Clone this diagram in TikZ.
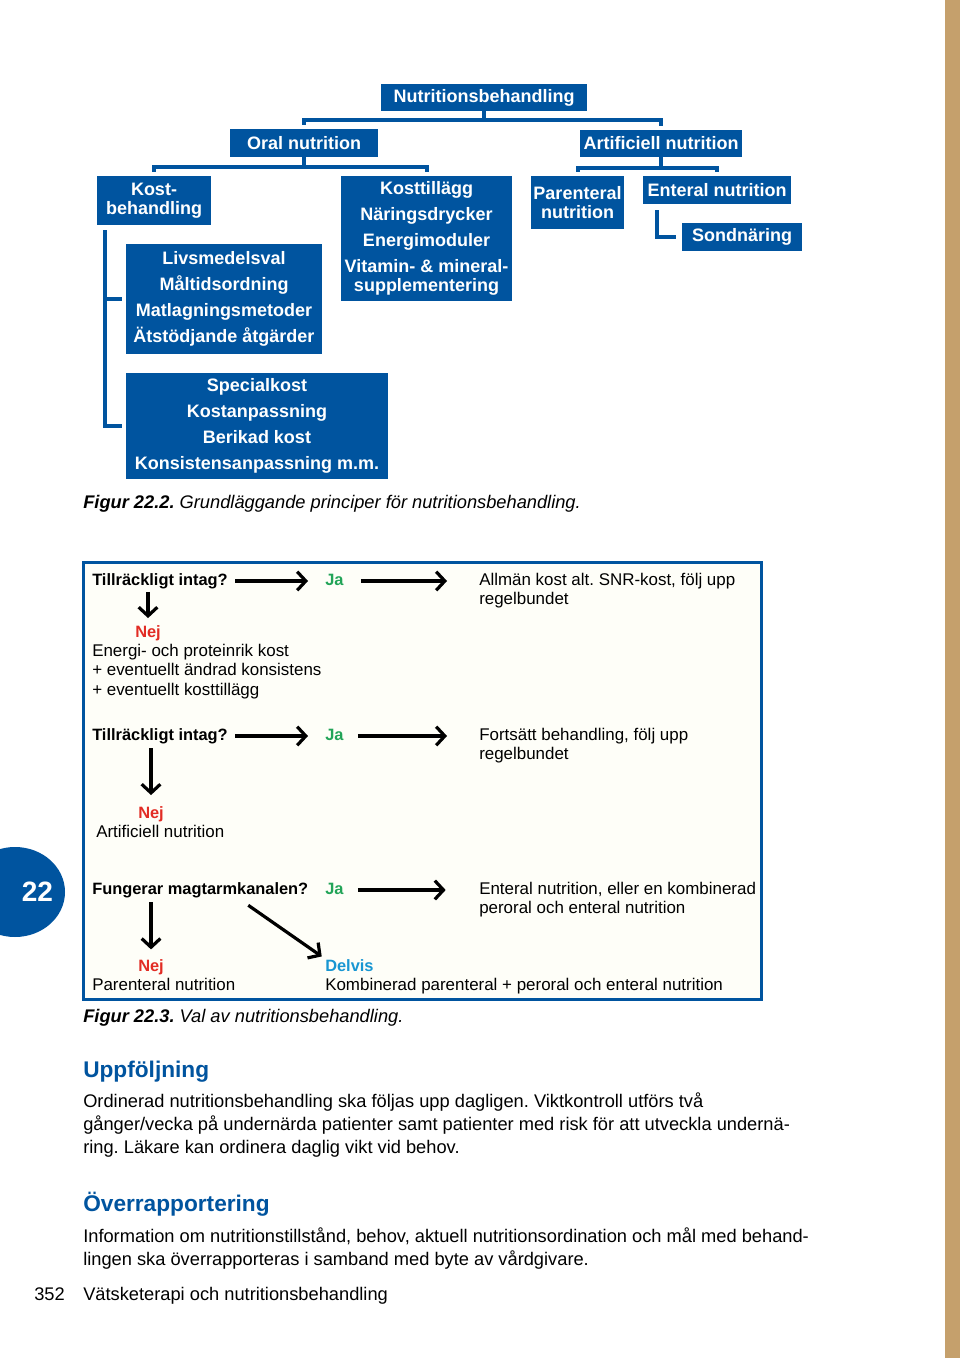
\documentclass[tikz,border=0pt]{standalone}
\usepackage{fontspec}
\setmainfont{Liberation Sans}
\usetikzlibrary{arrows.meta, calc}
\frenchspacing
\definecolor{boxblue}{RGB}{0, 84, 159}
\definecolor{pagetan}{RGB}{197, 160, 108}
\definecolor{flowbg}{RGB}{254, 254, 248}
\definecolor{jagreen}{RGB}{34, 164, 88}
\definecolor{nejred}{RGB}{226, 44, 36}
\definecolor{delvisblue}{RGB}{24, 150, 210}
\newcommand\boxfont{\fontsize{13.5}{19.5}\selectfont\bfseries}
\newcommand\flowfont{\fontsize{12.7}{14.6}\selectfont}
\newcommand\bodyfont{\fontsize{13.7}{17.25}\selectfont}

\begin{document}
\begin{tikzpicture}[
    x=0.75pt, y=-0.75pt,
    bluebox/.style={fill=boxblue, text=white, font=\boxfont, align=center, inner sep=0pt},
    treeline/.style={draw=boxblue, line width=3pt},
    flowtext/.style={font=\flowfont, inner sep=0pt, anchor=base west, text height=9pt, text depth=3pt},
    flowword/.style={flowtext, font=\fontsize{12.3}{14.6}\selectfont\bfseries},
    flowpara/.style={font=\flowfont, inner sep=0pt, anchor=base west, align=left},
    flowarrow/.style={line width=2.4pt, -{Straight Barb[length=6.5pt, width=14pt]}},
    bodytext/.style={font=\bodyfont, inner sep=0pt, anchor=base west, align=left},
    heading/.style={font=\fontsize{17}{20}\selectfont\bfseries, text=boxblue, inner sep=0pt, anchor=base west}
]
    % Page
    \fill[white] (0,0) rectangle (960,1358);
    \useasboundingbox (0,0) rectangle (960,1358);
    \fill[pagetan] (945,0) rectangle (960,1358);

    % Figure 22.2: tree of boxes
    \node[bluebox, minimum width=154.5pt, minimum height=20.25pt] (nutr) at (484,97.5) {Nutritionsbehandling};
    \node[bluebox, minimum width=111pt, minimum height=21pt] (oral) at (304,143) {Oral nutrition};
    \node[bluebox, minimum width=121.5pt, minimum height=20.25pt] (art) at (661,143.5) {Artificiell nutrition};
    \node[bluebox, minimum width=85.5pt, minimum height=36.75pt] (kost) at (154,200.5) {Kost-\\[-5.25pt]behandling};
    \node[bluebox, minimum width=128.25pt, minimum height=93.75pt] (tillagg) at (426.5,238.5)
        {Kosttillägg\\Näringsdrycker\\Energimoduler\\Vitamin- \& mineral-\\[-5.25pt]supplementering};
    \node[bluebox, minimum width=69.75pt, minimum height=39.75pt] (par) at (577.5,202.5) {Parenteral\\[-5.25pt]nutrition};
    \node[bluebox, minimum width=111pt, minimum height=21pt] (ent) at (717,190) {Enteral nutrition};
    \node[bluebox, minimum width=90pt, minimum height=21pt] (sond) at (742,237) {Sondnäring};
    \node[bluebox, minimum width=147pt, minimum height=82.5pt] (livs) at (224,299)
        {Livsmedelsval\\Måltidsordning\\Matlagningsmetoder\\Ätstödjande åtgärder};
    \node[bluebox, minimum width=196.5pt, minimum height=79.5pt] (special) at (257,426)
        {Specialkost\\Kostanpassning\\Berikad kost\\Konsistensanpassning m.m.};

    % Tree connectors
    \coordinate (nutrfoot) at ($(nutr.south)+(0,9)$);
    \coordinate (oralfoot) at ($(oral.south)+(0,10)$);
    \coordinate (artfoot) at ($(art.south)+(0,11)$);
    \coordinate (kostfoot) at ($(kost.south west)+(8,5)$);
    \coordinate (entfoot) at ($(ent.south west)+(14,6)$);
    \draw[treeline] (nutr.south) -- (nutrfoot);
    \draw[treeline, shorten <=3pt, shorten >=3pt] (oral.north) |- (nutrfoot) -| (art.north);
    \draw[treeline] (oral.south) -- (oralfoot);
    \draw[treeline, shorten <=3pt, shorten >=3pt] (kost.north) |- (oralfoot) -| (tillagg.north);
    \draw[treeline] (art.south) -- (artfoot);
    \draw[treeline, shorten <=3pt, shorten >=3pt] (par.north) |- (artfoot) -| (ent.north);
    \draw[treeline, shorten >=3pt] (kostfoot) |- (livs.west);
    \draw[treeline, shorten >=3pt] (kostfoot) |- (special.west);
    \draw[treeline, shorten >=4pt] (entfoot) |- (sond.west);

    \node[bodytext] (cap22) at (83,508) {\textit{\textbf{Figur 22.2.} Grundläggande principer för nutritionsbehandling.}};

    % Figure 22.3: flow of choices
    \draw[boxblue, line width=2.25pt, fill=flowbg] (83,562) rectangle (761,999);

    \node[flowword] (q1) at (92,585) {Tillräckligt intag?};
    \node[flowword, text=jagreen] (ja1) at (325,585) {Ja};
    \node[flowpara] (res1) at (479,604.5) {Allmän kost alt. SNR-kost, följ upp\\regelbundet};
    \node[flowword, text=nejred] (nej1) at (135,637) {Nej};
    \node[flowpara] (act1) at (92,695) {Energi- och proteinrik kost\\+ eventuellt ändrad konsistens\\+ eventuellt kosttillägg};

    \node[flowword] (q2) at (92,740) {Tillräckligt intag?};
    \node[flowword, text=jagreen] (ja2) at (325,740) {Ja};
    \node[flowpara] (res2) at (479,759.5) {Fortsätt behandling, följ upp\\regelbundet};
    \node[flowword, text=nejred] (nej2) at (138,818) {Nej};
    \node[flowtext] (act2) at (96,837) {Artificiell nutrition};

    \node[flowword] (q3) at (92,894) {Fungerar magtarmkanalen?};
    \node[flowword, text=jagreen] (ja3) at (325,894) {Ja};
    \node[flowpara] (res3) at (479,913.5) {Enteral nutrition, eller en kombinerad\\peroral och enteral nutrition};
    \node[flowword, text=nejred] (nej3) at (138,971) {Nej};
    \node[flowtext] (act3) at (92,990) {Parenteral nutrition};
    \node[flowword, text=delvisblue] (delvis) at (325,971) {Delvis};
    \node[flowtext] (act4) at (325,990) {Kombinerad parenteral + peroral och enteral nutrition};

    % Arrows
    \draw[flowarrow, shorten <=5.25pt, shorten >=12.75pt] (q1) -- (ja1);
    \draw[flowarrow, shorten <=12.75pt, shorten >=24pt] (ja1.east) -- (ja1.east -| res1.west);
    \draw[flowarrow, shorten <=2pt, shorten >=5pt] (q1.south -| nej1) -- (nej1.north);
    \draw[flowarrow, shorten <=5.25pt, shorten >=12.75pt] (q2) -- (ja2);
    \draw[flowarrow, shorten <=10.5pt, shorten >=24pt] (ja2.east) -- (ja2.east -| res2.west);
    \draw[flowarrow, shorten <=3pt, shorten >=8pt] (q2.south -| nej2) -- (nej2.north);
    \draw[flowarrow, shorten <=10.5pt, shorten >=25pt] (ja3.east) -- (ja3.east -| res3.west);
    \draw[flowarrow, shorten <=3pt, shorten >=7pt] (q3.south -| nej3) -- (nej3.north);
    \draw[flowarrow, shorten >=3pt] ($(q3.south)+(48,7)$) -- (delvis.north west);

    \node[bodytext] (cap23) at (83,1022) {\textit{\textbf{Figur 22.3.} Val av nutritionsbehandling.}};

    % Chapter tab
    \begin{scope}
        \clip (0,840) rectangle (80,945);
        \fill[boxblue] (15,892) ellipse [x radius=37.5pt, y radius=33.75pt];
    \end{scope}
    \node[font=\fontsize{21}{21}\selectfont\bfseries, text=white] (chapter) at (37.5,892) {22};

    % Text of the page
    \node[heading] (uppf) at (83,1077) {Uppföljning};
    \node[bodytext] (uppftext) at (83,1153) {Ordinerad nutritionsbehandling ska följas upp dagligen. Viktkontroll utförs två\\gånger/vecka på undernärda patienter samt patienter med risk för att utveckla undernä-\\ring. Läkare kan ordinera daglig vikt vid behov.};
    \node[heading] (overr) at (83,1211) {Överrapportering};
    \node[bodytext] (overrtext) at (83,1265) {Information om nutritionstillstånd, behov, aktuell nutritionsordination och mål med behand-\\lingen ska överrapporteras i samband med byte av vårdgivare.};
    \node[bodytext] (pagenum) at (34,1300) {352};
    \node[bodytext] (running) at (83,1300) {Vätsketerapi och nutritionsbehandling};
\end{tikzpicture}
\end{document}
